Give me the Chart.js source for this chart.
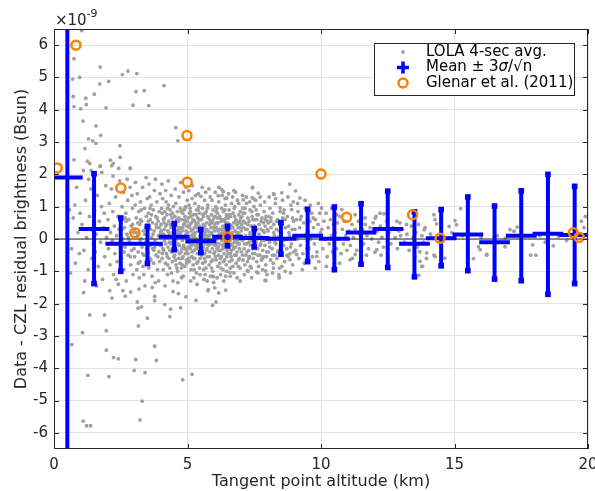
<!DOCTYPE html>
<html>
<head>
<meta charset="utf-8">
<script src="https://cdn.jsdelivr.net/npm/chart.js@4/dist/chart.umd.min.js"></script>
<style>
  html, body { margin: 0; padding: 0; background: #fff; }
  #wrap { width: 595px; height: 491px; }
</style>
</head>
<body>
<div id="wrap"><canvas id="chart"></canvas></div>
<script>
// --- Axis ticks ---
const X_TICKS = [0, 5, 10, 15, 20];
const Y_TICKS = [-6, -5, -4, -3, -2, -1, 0, 1, 2, 3, 4, 5, 6];

// --- Binned mean +/- 3 sigma/sqrt(n) (units of 1e-9 Bsun) ---
const binCenters = [0.5, 1.5, 2.5, 3.5, 4.5, 5.5, 6.5, 7.5, 8.5, 9.5, 10.5, 11.5, 12.5, 13.5, 14.5, 15.5, 16.5, 17.5, 18.5, 19.5];
const binMeans = [1.9, 0.31, -0.15, -0.15, 0.07, -0.07, 0.07, 0.03, 0.01, 0.1, 0.01, 0.2, 0.31, -0.15, 0.02, 0.14, -0.1, 0.1, 0.16, 0.12];
const binUpper = [20, 2.02, 0.65, 0.39, 0.48, 0.29, 0.39, 0.32, 0.51, 0.92, 0.99, 1.09, 1.48, 0.84, 0.91, 1.3, 1.02, 1.49, 2.0, 1.63];
const binLower = [-20, -1.38, -1.0, -0.76, -0.33, -0.42, -0.21, -0.24, -0.47, -0.7, -0.95, -0.78, -0.88, -1.17, -0.83, -0.98, -1.24, -1.29, -1.71, -1.38];

// --- Glenar et al. (2011) ---
const glenarAlt = [0.12, 0.82, 2.5, 3.03, 4.99, 4.98, 6.5, 10.0, 10.96, 13.43, 14.46, 19.45, 19.67];
const glenarRes = [2.2, 6.0, 1.58, 0.19, 1.76, 3.2, 0.06, 2.01, 0.67, 0.75, 0.02, 0.19, 0.05];

// --- LOLA 4-sec averages [altitude km, residual 1e-9] ---
const lolaPoints = [
  // upper outliers
  [1.04,6.45],[0.75,5.58],[1.73,5.32],[2.56,5.09],[2.77,5.2],[3.1,5.12],[0.7,4.95],[0.96,5.0],[1.72,4.8],[2.05,4.88],
  [4.12,4.75],[0.72,4.41],[1.19,4.36],[1.51,4.48],[3.07,4.56],[3.38,4.59],[0.75,4.1],[1.0,4.03],[1.21,4.16],[1.95,4.06],
  [2.96,4.14],[3.55,4.13],[1.09,3.65],[1.57,3.5],[1.75,3.21],[4.56,3.45],[4.64,3.04],[1.29,3.1],[1.45,3.04],[1.57,2.96],
  [2.47,2.89],[1.16,2.8],[0.75,2.45],[1.25,2.41],[1.34,2.34],[2.11,2.44],[2.22,2.34],[2.48,2.53],[1.74,2.26],[2.42,2.19],
  [2.86,2.18],[1.1,2.12],[1.39,2.12],[1.79,2.06],[2.16,2.27],[2.85,2.2],[1.72,2.25],
  // lower outliers
  [1.11,-1.66],[2.17,-1.83],[2.67,-1.77],[2.87,-1.64],[3.12,-1.95],[3.15,-2.14],[3.28,-2.1],[3.77,-1.78],[3.77,-1.91],[4.15,-2.03],
  [4.37,-2.17],[4.46,-1.63],[4.66,-1.69],[4.74,-2.13],[4.94,-1.79],[5.32,-1.9],[5.77,-1.6],[4.34,-2.4],[3.5,-2.45],[1.34,-2.35],
  [1.89,-2.35],[1.07,-2.9],[1.96,-2.84],[3.16,-2.69],[0.67,-3.27],[1.96,-3.44],[2.23,-3.67],[2.41,-3.71],[3.06,-3.73],[3.77,-3.32],
  [3.83,-3.76],[1.27,-4.22],[2.06,-4.26],[3.0,-4.07],[3.41,-4.14],[4.82,-4.36],[5.17,-4.19],[3.3,-5.02],[3.22,-5.6],[1.09,-5.64],
  [1.22,-5.78],[1.37,-5.78],
  // middle tails
  [8.83,1.7],[9.05,1.49],[9.21,1.27],[8.53,1.43],[8.24,1.38],[7.43,1.58],[7.65,1.42],[7.42,1.28],[6.74,1.5],[6.28,1.53],
  [6.34,1.47],[6.15,1.34],[6.47,1.27],[7.09,1.21],[5.5,1.32],[7.44,1.6],[8.22,1.4],
  [8.43,-1.2],[7.94,-1.29],[6.59,-1.04],[6.43,-1.15],[6.43,-1.58],[6.17,-1.67],[6.02,-1.51],[5.78,-1.57],[6.07,-1.95],[5.94,-2.05],
  [7.24,-0.98],[7.59,-1.02],[7.93,-0.99],[5.66,-1.1],[5.97,-1.16],[7.9,-1.28],[8.44,-1.19],
  // right side
  [8.47,0.96],[8.6,0.8],[8.9,0.91],[9.22,0.6],[9.71,0.65],[10.02,0.96],[10.78,0.91],[10.59,0.75],[11.28,0.75],[11.65,0.65],
  [12.03,0.65],[12.21,0.8],[12.06,0.7],[12.36,0.78],[12.84,0.55],[12.96,0.5],[13.2,0.45],[14.23,0.75],[14.27,0.6],[14.33,0.47],
  [15.02,0.57],[15.08,0.44],[15.23,0.94],[14.8,0.39],[13.86,0.29],[8.22,-0.9],[8.53,-0.85],[8.84,-0.64],[9.09,-0.48],[9.84,-0.54],
  [11.09,-0.64],[11.28,-0.48],[12.09,-0.33],[13.52,-0.54],[13.71,-0.69],[13.77,-0.85],[13.67,-1.12],[13.81,-0.85],[14.27,-0.54],[14.64,-0.59],
  [15.71,-0.61],[15.9,-0.24],[15.96,-0.33],[16.21,-0.48],[16.89,-0.24],[17.08,0.29],[17.23,0.24],[17.35,0.37],[17.85,-0.5],[17.93,-0.18],
  [18.7,-0.21],[19.52,0.44],[19.45,0.3],[12.02,-0.41],[14.23,-0.5],[13.96,-0.43],[18.05,-0.5],[16.2,-0.5],[19.75,0.55],[19.9,0.7],
  [19.85,0.35],[14.1,0.15],[14.6,0.05],[14.9,0.2],[15.3,0.1],[15.5,-0.1],[16.0,0.05],[16.6,0.1],[16.9,0.02],[17.5,0.05],
  [18.2,0.1],[18.9,0.08],[19.2,-0.05],[18.4,-0.1],
  // core cloud
  [0.58,0.9],[0.66,-0.3],[0.72,0.65],[0.8,-0.75],[0.85,1.6],[0.9,0.2],[0.95,-0.45],[0.78,1.05],[0.62,-1.05],[0.98,0.8],
  [1.05,0.45],[1.12,-0.35],[1.18,1.2],[1.22,0.05],[1.28,-0.95],[1.33,0.7],[1.38,1.55],[1.42,-0.6],[1.46,0.25],[1.15,-1.3],[1.3,1.85],[1.48,-0.15],
  [1.52,0.9],[1.55,-0.4],[1.58,0.15],[1.62,1.35],[1.66,-0.85],[1.7,0.55],[1.74,-0.1],[1.78,1.0],[1.82,-1.25],[1.86,0.35],[1.9,-0.55],[1.94,1.65],[1.97,0.05],[1.6,-1.45],[1.88,0.8],
  [2.02,0.6],[2.04,-0.3],[2.07,1.1],[2.1,-0.8],[2.12,0.2],[2.15,1.55],[2.18,-0.05],[2.2,0.85],[2.23,-1.1],[2.26,0.4],[2.28,-0.45],[2.31,1.3],[2.34,0.1],[2.36,-0.7],[2.39,0.7],[2.41,-1.4],[2.44,0.3],[2.46,1.8],[2.48,-0.2],[2.09,-1.6],[2.33,-1.25],[2.21,1.95],
  [2.51,0.5],[2.53,-0.6],[2.55,1.0],[2.57,0.0],[2.6,1.45],[2.62,-0.95],[2.64,0.35],[2.66,-0.25],[2.69,0.8],[2.71,-1.3],[2.73,0.15],[2.76,1.2],[2.78,-0.5],[2.8,0.6],[2.82,-0.05],[2.85,1.6],[2.87,-0.8],[2.89,0.4],[2.91,-0.35],[2.94,0.95],[2.96,-1.1],[2.98,0.2],[2.58,-1.6],[2.74,1.85],[2.92,1.35],[2.67,0.65],
  [3.01,0.3],[3.02,-0.55],[3.04,1.05],[3.06,-0.15],[3.08,0.65],[3.1,-0.95],[3.12,1.4],[3.13,0.1],[3.15,-0.4],[3.17,0.85],[3.19,-1.2],[3.21,0.45],[3.23,-0.7],[3.24,1.15],[3.26,0.0],[3.28,0.55],[3.3,-0.25],[3.32,1.6],[3.33,-0.85],[3.35,0.25],[3.37,-0.5],[3.39,0.95],[3.41,-1.45],[3.43,0.35],[3.44,-0.1],[3.46,0.7],[3.48,-0.65],[3.49,1.25],[3.05,1.75],[3.18,-1.55],[3.27,0.9],[3.36,-1.1],[3.14,0.5],[3.22,-0.05],[3.45,1.9],
  [3.51,0.15],[3.52,-0.45],[3.54,0.8],[3.55,-0.9],[3.57,0.4],[3.58,1.3],[3.6,-0.2],[3.61,0.6],[3.63,-0.65],[3.64,1.05],[3.66,0.05],[3.67,-1.15],[3.69,0.5],[3.7,-0.3],[3.72,0.9],[3.73,-0.75],[3.75,0.25],[3.76,1.5],[3.78,-0.05],[3.79,-1.35],[3.81,0.7],[3.82,-0.5],[3.84,0.35],[3.85,1.15],[3.87,-0.15],[3.88,-0.95],[3.9,0.55],[3.91,0.1],[3.93,-0.4],[3.94,0.85],[3.96,-0.7],[3.97,1.4],[3.99,0.2],[3.56,1.7],[3.68,-1.5],[3.8,1.85],[3.92,-1.3],[3.62,0.3],[3.74,-0.35],[3.86,0.65],
  [4.01,0.45],[4.02,-0.2],[4.03,0.95],[4.05,-0.6],[4.06,0.15],[4.07,1.25],[4.09,-0.95],[4.1,0.6],[4.11,-0.35],[4.13,0.3],[4.14,-0.05],[4.15,0.85],[4.17,-0.75],[4.18,1.5],[4.19,0.4],[4.21,-0.45],[4.22,0.05],[4.23,0.75],[4.25,-1.1],[4.26,0.25],[4.27,-0.25],[4.29,1.05],[4.3,0.55],[4.31,-0.6],[4.33,0.1],[4.34,-0.9],[4.35,0.9],[4.37,-0.15],[4.38,0.35],[4.39,1.35],[4.41,-0.4],[4.42,0.65],[4.43,-0.7],[4.45,0.2],[4.46,-1.3],[4.47,1.0],[4.49,0.0],[4.04,1.7],[4.16,-1.45],[4.28,1.8],[4.4,-1.05],[4.12,0.5],[4.24,-0.55],[4.36,0.45],[4.48,-0.3],[4.08,-0.3],[4.2,1.15],[4.32,-0.1],[4.44,0.8],[4.47,0.5],
  [4.51,0.3],[4.52,-0.5],[4.53,0.7],[4.55,-0.1],[4.56,1.1],[4.57,-0.8],[4.58,0.4],[4.6,0.0],[4.61,-0.35],[4.62,0.85],[4.63,-1.0],[4.65,0.2],[4.66,0.55],[4.67,-0.6],[4.68,1.3],[4.7,-0.2],[4.71,0.35],[4.72,-0.75],[4.73,0.95],[4.75,0.1],[4.76,-0.4],[4.77,0.6],[4.78,-1.2],[4.8,0.25],[4.81,-0.05],[4.82,0.8],[4.83,-0.55],[4.85,1.45],[4.86,0.45],[4.87,-0.25],[4.88,0.05],[4.9,-0.85],[4.91,0.7],[4.92,-0.45],[4.93,1.0],[4.95,0.15],[4.96,-0.65],[4.97,0.4],[4.98,-0.1],[4.99,1.2],[4.54,1.55],[4.64,-1.35],[4.74,1.75],[4.84,-1.15],[4.94,1.6],[4.59,0.6],[4.69,0.1],[4.79,-0.3],[4.89,0.5],[4.57,-0.2],[4.67,0.3],[4.77,-0.9],[4.87,0.9],[4.97,-0.35],[4.62,0.15],
  [5.01,0.2],[5.02,-0.45],[5.03,0.65],[5.04,-0.1],[5.06,1.05],[5.07,-0.7],[5.08,0.35],[5.09,0.0],[5.1,-0.3],[5.11,0.85],[5.13,-0.95],[5.14,0.5],[5.15,0.1],[5.16,-0.55],[5.17,1.25],[5.19,-0.15],[5.2,0.3],[5.21,-0.8],[5.22,0.75],[5.23,0.05],[5.25,-0.35],[5.26,0.55],[5.27,-0.6],[5.28,1.1],[5.29,0.2],[5.31,-0.2],[5.32,0.45],[5.33,-1.05],[5.34,0.9],[5.35,0.0],[5.37,-0.45],[5.38,0.65],[5.39,-0.7],[5.4,0.25],[5.41,1.4],[5.43,-0.1],[5.44,0.4],[5.45,-0.9],[5.46,0.8],[5.47,0.1],[5.48,-0.4],[5.49,0.6],[5.05,1.5],[5.12,-1.3],[5.18,1.65],[5.24,-1.2],[5.3,1.35],[5.36,-1.4],[5.42,1.0],[5.47,-1.1],[5.03,-0.25],[5.09,0.45],[5.15,-0.2],[5.21,0.15],[5.27,0.35],[5.33,-0.3],[5.39,0.5],[5.45,-0.05],[5.12,0.7],[5.38,-0.15],
  [5.51,0.15],[5.52,-0.5],[5.53,0.6],[5.54,-0.05],[5.56,0.95],[5.57,-0.75],[5.58,0.3],[5.59,-0.25],[5.6,0.7],[5.61,0.05],[5.63,-0.6],[5.64,1.2],[5.65,0.4],[5.66,-0.15],[5.67,0.2],[5.69,-0.9],[5.7,0.85],[5.71,-0.35],[5.72,0.5],[5.73,0.0],[5.75,-0.55],[5.76,1.05],[5.77,0.25],[5.78,-0.2],[5.79,0.65],[5.81,-0.8],[5.82,0.1],[5.83,0.45],[5.84,-0.4],[5.85,1.3],[5.87,-0.05],[5.88,0.35],[5.89,-0.7],[5.9,0.75],[5.91,0.15],[5.93,-0.3],[5.94,0.55],[5.95,-1.0],[5.96,0.9],[5.97,0.0],[5.99,-0.45],[5.55,1.6],[5.62,-1.25],[5.68,1.45],[5.74,-1.3],[5.8,1.55],[5.86,-1.15],[5.92,1.2],[5.98,-1.35],[5.53,-0.3],[5.59,0.45],[5.65,-0.45],[5.71,0.1],[5.77,-0.1],[5.83,0.6],[5.89,0.2],[5.95,-0.15],[5.58,0.05],[5.86,0.5],[5.66,0.8],
  [6.01,0.25],[6.02,-0.4],[6.03,0.7],[6.05,-0.1],[6.06,1.0],[6.07,-0.65],[6.08,0.35],[6.09,0.0],[6.1,-0.3],[6.12,0.8],[6.13,-0.85],[6.14,0.5],[6.15,0.1],[6.16,-0.5],[6.17,1.15],[6.19,-0.15],[6.2,0.3],[6.21,-0.75],[6.22,0.65],[6.23,0.05],[6.25,-0.35],[6.26,0.55],[6.27,-0.55],[6.28,0.95],[6.29,0.2],[6.31,-0.2],[6.32,0.4],[6.33,-0.95],[6.34,0.85],[6.35,0.0],[6.37,-0.45],[6.38,0.6],[6.39,-0.65],[6.4,0.25],[6.41,1.25],[6.43,-0.05],[6.44,0.45],[6.45,-0.8],[6.46,0.75],[6.47,0.1],[6.48,-0.35],[6.49,0.5],[6.04,1.45],[6.11,-1.2],[6.18,1.6],[6.24,-1.1],[6.3,1.35],[6.36,-1.3],[6.42,1.05],[6.47,-1.0],[6.03,-0.2],[6.09,0.5],[6.15,-0.25],[6.21,0.15],[6.27,0.3],[6.33,-0.3],[6.39,0.55],[6.45,-0.1],[6.13,0.65],[6.37,-0.15],
  [6.51,0.2],[6.52,-0.45],[6.53,0.65],[6.55,-0.05],[6.56,0.9],[6.57,-0.7],[6.58,0.3],[6.6,-0.2],[6.61,0.7],[6.62,0.05],[6.63,-0.55],[6.65,1.1],[6.66,0.4],[6.67,-0.15],[6.68,0.2],[6.7,-0.85],[6.71,0.8],[6.72,-0.3],[6.73,0.5],[6.75,0.0],[6.76,-0.5],[6.77,1.0],[6.78,0.25],[6.8,-0.25],[6.81,0.6],[6.82,-0.75],[6.83,0.1],[6.85,0.45],[6.86,-0.4],[6.87,1.2],[6.88,-0.05],[6.9,0.35],[6.91,-0.65],[6.92,0.75],[6.93,0.15],[6.95,-0.3],[6.96,0.55],[6.97,-0.9],[6.98,0.85],[6.99,0.0],[6.54,1.4],[6.6,-1.15],[6.69,1.3],[6.74,-1.05],[6.8,1.45],[6.86,-1.2],[6.92,1.1],[6.97,-1.3],[6.58,0.45],[6.64,-0.35],[6.7,0.1],[6.76,-0.1],[6.82,0.55],[6.88,0.2],[6.94,-0.15],
  [7.01,0.25],[7.02,-0.4],[7.04,0.7],[7.05,-0.05],[7.07,0.95],[7.08,-0.65],[7.09,0.35],[7.11,0.0],[7.12,-0.3],[7.14,0.8],[7.15,-0.8],[7.16,0.5],[7.18,0.1],[7.19,-0.5],[7.21,1.1],[7.22,-0.15],[7.24,0.3],[7.25,-0.7],[7.26,0.65],[7.28,0.05],[7.29,-0.35],[7.31,0.55],[7.32,-0.55],[7.34,0.9],[7.35,0.2],[7.36,-0.2],[7.38,0.4],[7.39,-0.9],[7.41,0.85],[7.42,0.0],[7.44,-0.45],[7.45,0.6],[7.46,-0.6],[7.48,0.25],[7.49,1.0],[7.06,1.35],[7.13,-1.1],[7.2,1.3],[7.27,-1.0],[7.33,1.15],[7.4,-1.2],[7.47,1.25],[7.1,0.55],[7.3,-0.1],[7.43,0.15],
  [7.51,0.2],[7.52,-0.45],[7.54,0.6],[7.56,-0.1],[7.57,0.9],[7.59,-0.7],[7.6,0.3],[7.62,0.0],[7.63,-0.3],[7.65,0.75],[7.66,-0.85],[7.68,0.45],[7.7,0.1],[7.71,-0.5],[7.73,1.05],[7.74,-0.15],[7.76,0.3],[7.77,-0.65],[7.79,0.65],[7.8,0.05],[7.82,-0.35],[7.84,0.5],[7.85,-0.55],[7.87,0.85],[7.88,0.2],[7.9,-0.2],[7.91,0.4],[7.93,-0.8],[7.94,0.7],[7.96,0.0],[7.97,-0.4],[7.99,0.55],[7.55,1.2],[7.64,-1.05],[7.72,1.3],[7.81,-0.95],[7.89,1.15],[7.98,-1.1],[7.6,0.6],[7.78,-0.05],
  [8.02,0.25],[8.03,-0.4],[8.05,0.7],[8.07,-0.1],[8.09,0.95],[8.11,-0.65],[8.13,0.35],[8.15,0.0],[8.17,-0.3],[8.19,0.8],[8.21,-0.75],[8.23,0.45],[8.25,0.1],[8.27,-0.5],[8.29,1.1],[8.31,-0.15],[8.33,0.3],[8.35,-0.6],[8.37,0.6],[8.39,0.05],[8.41,-0.35],[8.43,0.5],[8.45,-0.9],[8.47,0.85],[8.49,0.15],[8.06,1.3],[8.18,-1.05],[8.3,1.25],[8.42,-1.1],[8.12,0.55],
  [8.52,0.2],[8.54,-0.4],[8.57,0.65],[8.59,-0.05],[8.62,0.9],[8.64,-0.7],[8.67,0.35],[8.69,0.0],[8.72,-0.3],[8.74,0.7],[8.77,-0.55],[8.79,0.4],[8.82,0.1],[8.84,-0.45],[8.87,1.05],[8.89,-0.15],[8.92,0.3],[8.94,-0.8],[8.97,0.55],[8.99,0.05],[8.56,1.2],[8.66,-1.0],[8.76,1.3],[8.86,-1.05],[8.96,1.15],
  [9.02,0.3],[9.05,-0.35],[9.08,0.6],[9.11,0.0],[9.14,0.85],[9.17,-0.6],[9.2,0.35],[9.23,-0.2],[9.26,0.7],[9.29,0.1],[9.32,-0.45],[9.35,0.5],[9.38,-0.75],[9.41,0.95],[9.44,0.15],[9.47,-0.3],[9.12,1.1],[9.3,-0.95],[9.4,1.2],[9.49,0.4],
  [9.52,0.25],[9.55,-0.3],[9.58,0.55],[9.62,0.0],[9.65,0.8],[9.68,-0.55],[9.72,0.35],[9.75,-0.15],[9.79,0.6],[9.82,0.1],[9.85,-0.4],[9.89,0.45],[9.92,-0.7],[9.95,0.8],[9.98,0.2],[9.6,1.05],[9.78,-0.9],[9.9,1.1],
  [10.03,0.3],[10.07,-0.3],[10.11,0.55],[10.15,0.0],[10.19,0.8],[10.23,-0.55],[10.27,0.35],[10.31,-0.15],[10.35,0.6],[10.39,0.1],[10.43,-0.4],[10.47,0.45],[10.2,-0.85],[10.4,0.95],
  [10.53,0.2],[10.58,-0.3],[10.62,0.5],[10.66,0.0],[10.71,0.7],[10.75,-0.45],[10.8,0.3],[10.84,-0.15],[10.88,0.55],[10.93,0.1],[10.97,-0.35],[10.7,-0.75],
  [11.04,0.25],[11.1,-0.2],[11.16,0.45],[11.22,0.05],[11.28,0.3],[11.34,-0.35],[11.4,0.55],[11.45,0.15],[11.18,-0.6],[11.48,-0.1],
  [11.55,0.3],[11.6,-0.15],[11.66,0.45],[11.72,0.1],[11.78,-0.3],[11.84,0.35],[11.9,0.0],[11.95,0.5],[11.7,-0.5],
  [12.1,0.25],[12.16,-0.1],[12.22,0.4],[12.28,0.05],[12.34,-0.25],[12.4,0.3],[12.46,0.55],[12.25,-0.5],
  [12.55,0.2],[12.62,-0.15],[12.7,0.35],[12.78,0.05],[12.86,-0.3],[12.92,0.25],[12.98,0.1],
  [13.05,0.3],[13.12,-0.1],[13.22,0.15],[13.3,-0.35],[13.38,0.4],[13.46,0.05],
  [13.55,0.2],[13.6,-0.25],[13.65,0.45],[13.7,-0.4],[13.78,0.1],[13.84,-0.1],[13.9,0.35],[13.95,-0.6],
  // densest part of the cloud
  [2.55,0.3],[2.63,-0.4],[2.7,0.55],[2.78,0.05],[2.86,-0.55],[2.94,0.45],[3.0,-0.3],[3.08,0.2],[3.16,-0.75],[3.24,0.6],[3.32,-0.45],[3.4,0.15],[3.47,-0.3],
  [3.53,0.55],[3.59,-0.6],[3.65,0.75],[3.71,0.15],[3.77,-0.25],[3.83,0.45],[3.89,-0.55],[3.95,0.35],[3.98,-0.2],[3.6,0.95],
  [4.02,0.25],[4.06,-0.45],[4.1,0.15],[4.14,0.65],[4.18,-0.15],[4.22,0.45],[4.26,-0.8],[4.3,0.2],[4.34,-0.35],[4.38,0.75],[4.42,-0.1],[4.46,0.35],[4.49,-0.55],[4.05,0.8],[4.25,0.95],
  [4.52,0.15],[4.55,-0.65],[4.58,0.5],[4.61,0.25],[4.64,-0.15],[4.67,0.65],[4.7,-0.45],[4.73,0.2],[4.76,0.85],[4.79,-0.6],[4.82,0.35],[4.85,-0.2],[4.88,0.6],[4.91,-0.3],[4.94,0.25],[4.97,-0.75],[4.99,0.55],[4.6,-0.9],[4.8,-0.8],[4.9,0.95],
  [5.02,0.4],[5.05,-0.6],[5.08,0.8],[5.11,-0.15],[5.14,0.25],[5.17,-0.4],[5.2,0.6],[5.23,-0.6],[5.26,0.1],[5.29,-0.05],[5.32,0.75],[5.35,-0.75],[5.38,0.35],[5.41,-0.25],[5.44,0.6],[5.47,-0.6],[5.49,0.3],[5.1,0.95],[5.25,-0.95],[5.4,0.9],
  [5.52,0.35],[5.55,-0.35],[5.58,0.75],[5.61,-0.45],[5.64,0.15],[5.67,-0.7],[5.7,0.3],[5.73,-0.3],[5.76,0.7],[5.79,0.0],[5.82,-0.55],[5.85,0.2],[5.88,-0.15],[5.91,0.5],[5.94,-0.65],[5.97,0.35],[5.99,0.65],[5.6,-0.95],[5.75,0.95],[5.9,-0.9],
  [6.02,0.45],[6.05,-0.55],[6.08,0.85],[6.11,-0.15],[6.14,0.25],[6.17,-0.35],[6.2,0.7],[6.23,-0.6],[6.26,0.1],[6.29,-0.05],[6.32,0.6],[6.35,-0.7],[6.38,0.35],[6.41,-0.25],[6.44,0.65],[6.47,-0.55],[6.49,0.25],[6.1,0.95],[6.25,-0.9],[6.4,0.9],
  [6.52,0.35],[6.55,-0.3],[6.58,0.75],[6.61,-0.45],[6.64,0.15],[6.67,-0.65],[6.7,0.35],[6.73,-0.25],[6.76,0.7],[6.79,0.0],[6.82,-0.5],[6.85,0.2],[6.88,-0.15],[6.91,0.5],[6.94,-0.6],[6.97,0.35],[6.99,0.65],[6.6,-0.9],[6.75,0.95],[6.9,-0.85],
  [7.02,0.45],[7.06,-0.5],[7.1,0.8],[7.14,-0.15],[7.18,0.3],[7.22,-0.4],[7.26,0.45],[7.3,-0.6],[7.34,0.15],[7.38,-0.05],[7.42,0.7],[7.46,-0.3],[7.49,0.4],[7.15,0.95],[7.35,-0.85],
  [7.52,0.4],[7.56,-0.3],[7.6,0.75],[7.64,-0.5],[7.68,0.15],[7.72,-0.2],[7.76,0.55],[7.8,-0.6],[7.84,0.25],[7.88,-0.05],[7.92,0.6],[7.96,-0.55],[7.99,0.3],
  [8.03,0.5],[8.08,-0.25],[8.13,0.65],[8.18,-0.5],[8.23,0.2],[8.28,-0.1],[8.33,0.55],[8.38,-0.4],[8.43,0.25],[8.48,-0.2],
  [8.53,0.45],[8.6,-0.2],[8.66,0.6],[8.73,-0.5],[8.8,0.2],[8.86,-0.25],[8.93,0.65],[8.98,-0.4]
];

const FONT = '"DejaVu Sans", "Liberation Sans", Arial, sans-serif';
const TEXT_COLOR = '#262626';
const BLUE = '#0000ff';
const ORANGE = '#ff8000';
const GREY = '#a0a0a0';

// --- Build line data for the error bars (null breaks the line) ---
const vBarData = [];
const hBarData = [];
binCenters.forEach((x, i) => {
    vBarData.push({ x, y: binLower[i] }, { x, y: binUpper[i] }, { x, y: null });
    hBarData.push({ x: x - 0.5, y: binMeans[i] }, { x: x + 0.5, y: binMeans[i] }, { x, y: null });
});

// Box, inward ticks, exponent label and legend
const overlayPlugin = {
    id: 'overlay',
    afterDraw(chart) {
        const { ctx, chartArea: a, scales: { x, y } } = chart;
        ctx.save();
        ctx.strokeStyle = TEXT_COLOR;
        ctx.lineWidth = 1;
        ctx.strokeRect(a.left + 0.5, a.top + 0.5, a.right - a.left - 1, a.bottom - a.top - 1);

        ctx.beginPath();
        X_TICKS.forEach(v => {
            const px = Math.round(x.getPixelForValue(v)) + 0.5;
            ctx.moveTo(px, a.bottom); ctx.lineTo(px, a.bottom - 5);
            ctx.moveTo(px, a.top); ctx.lineTo(px, a.top + 5);
        });
        Y_TICKS.forEach(v => {
            const py = Math.round(y.getPixelForValue(v)) + 0.5;
            ctx.moveTo(a.left, py); ctx.lineTo(a.left + 5, py);
            ctx.moveTo(a.right, py); ctx.lineTo(a.right - 5, py);
        });
        ctx.stroke();

        // x10^-9 exponent
        ctx.fillStyle = TEXT_COLOR;
        ctx.textBaseline = 'alphabetic';
        ctx.textAlign = 'left';
        ctx.font = '15px ' + FONT;
        ctx.fillText('\u00d710', a.left + 1, 25);
        const w = ctx.measureText('\u00d710').width;
        ctx.font = '11px ' + FONT;
        ctx.fillText('-9', a.left + 1 + w, 17);

        // legend
        const lx = 374, ly = 43, lw = 200, lh = 52;
        ctx.fillStyle = '#fff';
        ctx.fillRect(lx, ly, lw, lh);
        ctx.strokeStyle = TEXT_COLOR;
        ctx.strokeRect(lx + 0.5, ly + 0.5, lw, lh);
        const sx = 403, tx = 426;
        const rows = [52, 67.5, 83];

        ctx.fillStyle = GREY;
        ctx.beginPath(); ctx.arc(sx, rows[0], 1.9, 0, Math.PI * 2); ctx.fill();

        ctx.strokeStyle = BLUE; ctx.lineWidth = 3.5;
        ctx.beginPath();
        ctx.moveTo(sx - 6, rows[1]); ctx.lineTo(sx + 6, rows[1]);
        ctx.moveTo(sx, rows[1] - 6); ctx.lineTo(sx, rows[1] + 6);
        ctx.stroke();

        ctx.strokeStyle = ORANGE; ctx.lineWidth = 2.5;
        ctx.beginPath(); ctx.arc(sx, rows[2], 4.5, 0, Math.PI * 2); ctx.stroke();

        ctx.fillStyle = '#000';
        ctx.textBaseline = 'middle';
        ctx.font = '15px ' + FONT;
        ctx.fillText('LOLA 4-sec avg.', tx, rows[0]);
        let cx = tx;
        ctx.fillText('Mean \u00b1 3', cx, rows[1]);
        cx += ctx.measureText('Mean \u00b1 3').width;
        ctx.font = 'italic 15px ' + FONT;
        ctx.fillText('\u03c3', cx, rows[1]);
        cx += ctx.measureText('\u03c3').width;
        ctx.font = '15px ' + FONT;
        ctx.fillText('/\u221an', cx, rows[1]);
        ctx.fillText('Glenar et al. (2011)', tx, rows[2]);
        ctx.restore();
    }
};

new Chart(document.getElementById('chart').getContext('2d'), {
    type: 'scatter',
    data: {
        datasets: [
            {
                label: 'LOLA 4-sec avg.',
                data: lolaPoints.map(p => ({ x: p[0], y: p[1] })),
                backgroundColor: GREY,
                borderWidth: 0,
                pointRadius: 1.9,
                order: 4
            },
            {
                label: 'zero',
                data: [{ x: 0, y: 0 }, { x: 20, y: 0 }],
                showLine: true,
                borderColor: TEXT_COLOR,
                borderWidth: 1,
                pointRadius: 0,
                order: 3
            },
            {
                label: 'error',
                data: vBarData,
                showLine: true,
                spanGaps: false,
                borderColor: BLUE,
                borderWidth: 4,
                pointStyle: 'rect',
                pointRadius: 4,
                pointBorderWidth: 0,
                pointBackgroundColor: BLUE,
                order: 2
            },
            {
                label: 'mean',
                data: hBarData,
                showLine: true,
                spanGaps: false,
                borderColor: BLUE,
                borderWidth: 4,
                borderCapStyle: 'square',
                pointRadius: 0,
                order: 2
            },
            {
                label: 'Glenar et al. (2011)',
                data: glenarAlt.map((x, i) => ({ x, y: glenarRes[i] })),
                pointStyle: 'circle',
                pointRadius: 4.5,
                borderWidth: 2.5,
                borderColor: ORANGE,
                backgroundColor: 'rgba(0,0,0,0)',
                order: 1
            }
        ]
    },
    options: {
        responsive: true,
        maintainAspectRatio: false,
        animation: false,
        events: [],
        layout: { padding: { top: 29, right: 7, left: 0, bottom: 0 } },
        plugins: { legend: { display: false }, tooltip: { enabled: false } },
        scales: {
            x: {
                type: 'linear',
                min: 0, max: 20,
                afterBuildTicks: s => { s.ticks = X_TICKS.map(v => ({ value: v })); },
                afterFit: s => { s.height = 42; s.paddingRight = 0; },
                grid: { color: '#e3e3e3', drawTicks: false },
                border: { display: false },
                ticks: { color: TEXT_COLOR, font: { family: FONT, size: 15 }, padding: 7, maxRotation: 0 },
                title: { display: true, text: 'Tangent point altitude (km)', color: TEXT_COLOR, font: { family: FONT, size: 16 }, padding: { top: 0, bottom: 0 } }
            },
            y: {
                type: 'linear',
                min: -6.5, max: 6.5,
                afterBuildTicks: s => { s.ticks = Y_TICKS.map(v => ({ value: v })); },
                afterFit: s => { s.width = 54; },
                grid: { color: '#e3e3e3', drawTicks: false },
                border: { display: false },
                ticks: { color: TEXT_COLOR, font: { family: FONT, size: 15 }, padding: 6 },
                title: { display: true, text: 'Data - CZL residual brightness (Bsun)', color: TEXT_COLOR, font: { family: FONT, size: 16 }, padding: { top: 12, bottom: 0 } }
            }
        }
    },
    plugins: [overlayPlugin]
});
</script>
</body>
</html>
